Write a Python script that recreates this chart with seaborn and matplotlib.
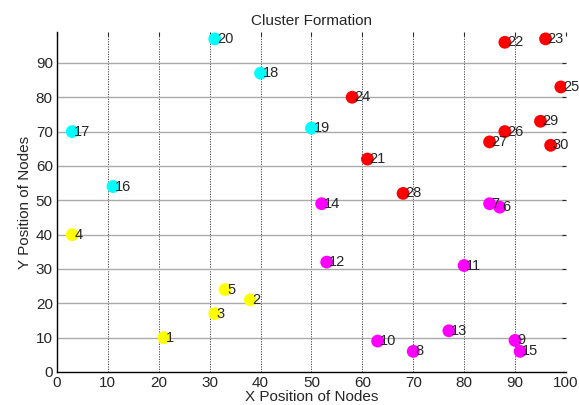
import pandas as pd
import numpy as np
import matplotlib.pyplot as plt
import seaborn as sns

# node positions
node_id = list(range(1, 31))
x_pos = [21, 38, 31, 3, 33,
         87, 85, 70, 90, 63, 80, 53, 77, 52, 91,
         11, 3, 40, 50, 31,
         61, 88, 96, 58, 99, 88, 85, 68, 95, 97]
y_pos = [10, 21, 17, 40, 24,
         48, 49, 6, 9.2, 9, 31, 32, 12, 49, 6,
         54, 70, 87, 71, 97,
         62, 96, 97, 80, 83, 70, 67, 52, 73, 66]
cluster = ['A'] * 5 + ['B'] * 10 + ['C'] * 5 + ['D'] * 10
cluster_colors = {'A': '#ffff00', 'B': '#ff00ff', 'C': '#00ffff', 'D': '#ff0000'}

sns.set_style("white")
plt.rcParams['font.family'] = ['Liberation Sans', 'DejaVu Sans']
plt.rcParams['font.size'] = 11

df = pd.DataFrame({'node': node_id, 'x': x_pos, 'y': y_pos, 'cluster': cluster})

fig = plt.figure(figsize=(5.79, 4.05), dpi=100)
ax = fig.add_axes([0.0984, 0.0815, 0.879, 0.8395])

# grid: dotted verticals, solid grey horizontals
for xv in range(10, 101, 10):
    ax.axvline(xv, color='#333333', linestyle=(0, (1.5, 1.5)), linewidth=0.6, zorder=0)
for yv in range(10, 91, 10):
    ax.axhline(yv, color='#aaaaaa', linestyle='-', linewidth=1.0, zorder=0)

sns.scatterplot(data=df, x='x', y='y', hue='cluster', palette=cluster_colors,
                s=85, linewidth=0, legend=False, ax=ax, zorder=3)

for i in range(len(df)):
    ax.text(df['x'].iloc[i] + 0.4, df['y'].iloc[i], str(df['node'].iloc[i]),
            fontsize=10.5, va='center', ha='left', zorder=4)

ax.set_xlim(0, 100)
ax.set_ylim(0, 99)
ax.set_xticks(np.arange(0, 101, 10))
ax.set_yticks(np.arange(0, 91, 10))
ax.tick_params(direction='in', length=3, width=0.8, top=True, right=True,
               labelsize=11, pad=3)
for side in ['top', 'right']:
    ax.spines[side].set_visible(False)
for side in ['left', 'bottom']:
    ax.spines[side].set_color('black')
    ax.spines[side].set_linewidth(1.0)

ax.set_title('Cluster Formation', fontsize=11, pad=5)
ax.set_xlabel('X Position of Nodes', fontsize=11, labelpad=0)
ax.set_ylabel('Y Position of Nodes', fontsize=11, labelpad=3)

plt.savefig('out.png', dpi=100)
plt.close()
